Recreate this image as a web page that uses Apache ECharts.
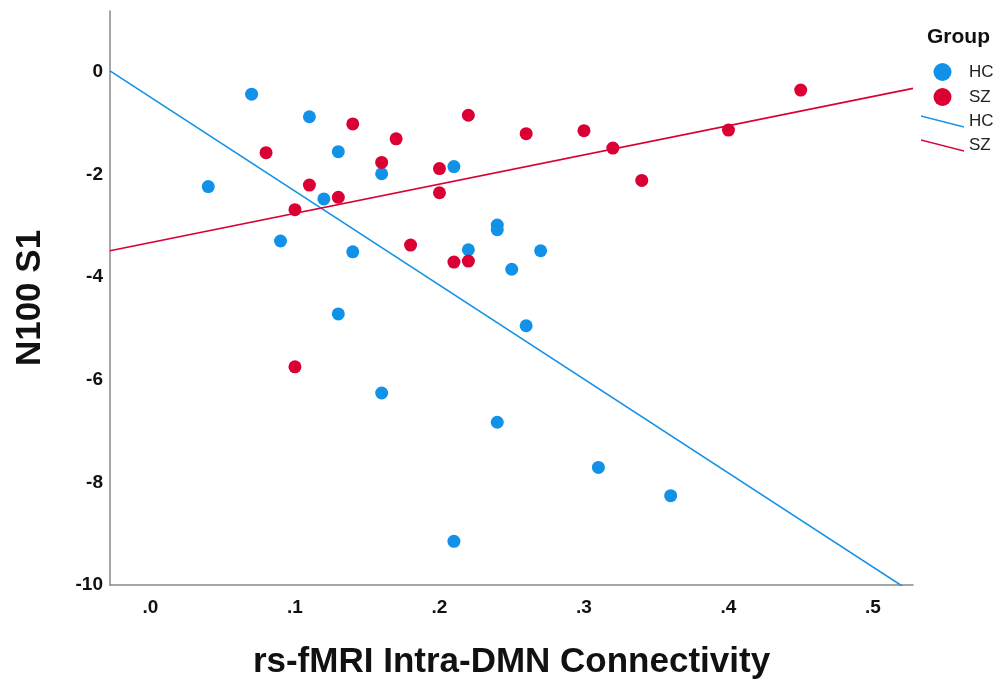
<!DOCTYPE html>
<html lang="en">
<head>
    <meta charset="UTF-8">
    <title>N100 S1 vs rs-fMRI Intra-DMN Connectivity</title>
    <script src="https://cdn.jsdelivr.net/npm/echarts@6/dist/echarts.min.js"></script>
    <style>
        html, body { margin: 0; padding: 0; background: #fff; }
        #chart { width: 994px; height: 681px; }
    </style>
</head>
<body>
    <div id="chart"></div>
<script>
    // data
    var hcPoints = [
        [0.04, -2.24], [0.07, -0.44], [0.09, -3.30], [0.11, -0.88], [0.12, -2.48],
        [0.13, -1.56], [0.13, -4.72], [0.14, -3.51], [0.16, -1.99], [0.16, -6.26],
        [0.21, -1.85], [0.21, -9.15], [0.22, -3.47], [0.24, -2.99], [0.24, -3.08],
        [0.24, -6.83], [0.25, -3.85], [0.26, -4.95], [0.27, -3.49], [0.31, -7.71],
        [0.36, -8.26]
    ];
    var szPoints = [
        [0.08, -1.58], [0.10, -2.69], [0.10, -5.75], [0.11, -2.21], [0.13, -2.45],
        [0.14, -1.02], [0.16, -1.77], [0.17, -1.31], [0.18, -3.38], [0.20, -1.89],
        [0.20, -2.36], [0.21, -3.71], [0.22, -0.85], [0.22, -3.69], [0.26, -1.21],
        [0.30, -1.15], [0.32, -1.49], [0.34, -2.12], [0.40, -1.14], [0.45, -0.36]
    ];
    // fit lines (intercept, slope)
    var hcFit = [-0.50, -18.3];
    var szFit = [-3.33, 5.69];

    var xTicks = [0, 0.1, 0.2, 0.3, 0.4, 0.5];
    var yTicks = [-10, -8, -6, -4, -2, 0];
    var xMin = -0.028, xMax = 0.5277;
    var yMin = -10, yMax = 1.18;

    var blue = '#1192e8';
    var red = '#da0034';
    var font = 'Liberation Sans, Arial, sans-serif';

    function fitLine(f) {
        return [[xMin, f[0] + f[1] * xMin], [xMax, f[0] + f[1] * xMax]];
    }

    var lineIcon = 'path://M0,0L43,11L43,12.6L0,1.6Z';

    var myChart = echarts.init(document.getElementById('chart'));
    var option = {
        animation: false,
        title: {
            text: 'Group',
            left: 922,
            top: 22,
            textStyle: { fontFamily: font, fontSize: 21, fontWeight: 'bold', color: '#111' }
        },
        legend: {
            orient: 'vertical',
            left: 916,
            top: 58,
            itemWidth: 43,
            itemHeight: 18,
            itemGap: 7,
            selectedMode: false,
            formatter: function (n) { return n.replace(' fit', ''); },
            textStyle: { fontFamily: font, fontSize: 17, color: '#222' },
            data: [
                { name: 'HC', icon: 'circle' },
                { name: 'SZ', icon: 'circle' },
                { name: 'HC fit', icon: lineIcon },
                { name: 'SZ fit', icon: lineIcon }
            ]
        },
        grid: {
            left: 110, right: 81, top: 11, bottom: 96,
            containLabel: false,
            outerBoundsMode: 'none'
        },
        xAxis: {
            type: 'value',
            min: xMin,
            max: xMax,
            name: 'rs-fMRI Intra-DMN Connectivity',
            nameLocation: 'middle',
            nameGap: 60,
            nameTextStyle: { fontFamily: font, fontSize: 35, fontWeight: 'bold', color: '#111' },
            axisLine: { show: true, onZero: false, lineStyle: { color: '#888', width: 1.5 } },
            axisTick: { show: false },
            splitLine: { show: false },
            axisLabel: {
                customValues: xTicks,
                margin: 13,
                fontFamily: font, fontSize: 19, fontWeight: 'bold', color: '#111',
                formatter: function (v) { return v.toFixed(1).replace(/^0/, ''); }
            }
        },
        yAxis: {
            type: 'value',
            min: yMin,
            max: yMax,
            name: 'N100 S1',
            nameLocation: 'middle',
            nameGap: 62,
            nameTextStyle: { fontFamily: font, fontSize: 35, fontWeight: 'bold', color: '#111' },
            axisLine: { show: true, onZero: false, lineStyle: { color: '#888', width: 1.5 } },
            axisTick: { show: false },
            splitLine: { show: false },
            axisLabel: {
                customValues: yTicks,
                margin: 7,
                fontFamily: font, fontSize: 19, fontWeight: 'bold', color: '#111',
                formatter: function (v) { return String(v); }
            }
        },
        series: [
            {
                name: 'HC',
                type: 'scatter',
                symbolSize: 13,
                itemStyle: { color: blue, opacity: 1 },
                data: hcPoints,
                z: 3
            },
            {
                name: 'SZ',
                type: 'scatter',
                symbolSize: 13,
                itemStyle: { color: red, opacity: 1 },
                data: szPoints,
                z: 3
            },
            {
                name: 'HC fit',
                type: 'line',
                symbol: 'none',
                clip: true,
                itemStyle: { color: blue },
                lineStyle: { color: blue, width: 1.6 },
                data: fitLine(hcFit),
                z: 2
            },
            {
                name: 'SZ fit',
                type: 'line',
                symbol: 'none',
                clip: true,
                itemStyle: { color: red },
                lineStyle: { color: red, width: 1.6 },
                data: fitLine(szFit),
                z: 2
            }
        ]
    };
    myChart.setOption(option);
</script>
</body>
</html>
